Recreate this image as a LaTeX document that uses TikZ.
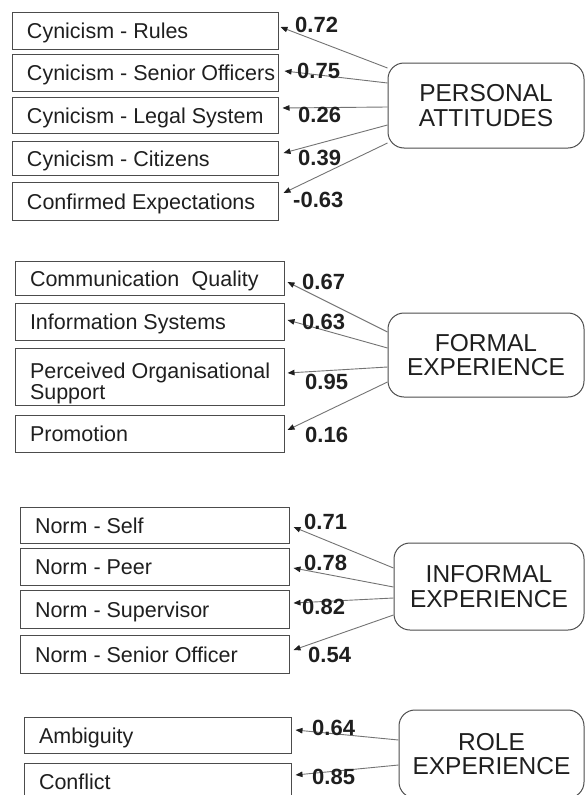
\documentclass[tikz,border=0pt]{standalone}
\usepackage{fontspec}
\setmainfont{Liberation Sans}
\usetikzlibrary{arrows.meta}
\definecolor{boxline}{gray}{0.3}
\definecolor{wire}{gray}{0.45}
\definecolor{ink}{gray}{0.12}
% one label line of given box width, inset from the left edge
\newcommand{\itemline}[2]{\makebox[#1][l]{\hspace*{15pt}\rule[-4.5pt]{0pt}{25pt}#2}}
% plain inset line, used inside two-line labels
\newcommand{\itemrow}[2]{\makebox[#1][l]{\hspace*{15pt}#2}}

\begin{document}
\begin{tikzpicture}[x=1pt,y=1pt,
  ind/.style={draw=boxline, line width=1pt, rectangle, minimum height=36pt,
    inner xsep=0pt, inner ysep=0pt, align=left, text=ink,
    font=\fontsize{21.5}{21}\selectfont},
  lat/.style={draw=boxline, line width=1pt, rounded corners=16pt, align=center,
    text=ink, font=\fontsize{24.5}{24.5}\selectfont},
  num/.style={font=\bfseries\fontsize{22}{22}\selectfont, text=ink,
    inner sep=0pt, anchor=west},
  conn/.style={draw=wire, line width=0.9pt,
    -{Triangle[length=7pt,width=5.5pt,color=ink]}}
]
\useasboundingbox (0,0) rectangle (585,-795);

% ---------- personal attitudes ----------
\node[ind, minimum height=37pt] (r1) at (145,-30.5) {\itemline{266pt}{Cynicism - Rules}};
\node[ind, minimum height=37pt] (r2) at (145,-72.5) {\itemline{266pt}{Cynicism - Senior Officers}};
\node[ind, minimum height=36pt] (r3) at (145,-115) {\itemline{266pt}{Cynicism - Legal System}};
\node[ind, minimum height=34pt] (r4) at (145,-158.5) {\itemline{266pt}{Cynicism - Citizens}};
\node[ind, minimum height=38pt] (r5) at (145,-201) {\itemline{266pt}{Confirmed Expectations}};
\node[lat, minimum width=196pt, minimum height=85pt] (pa) at (486,-105.5) {PERSONAL\\ATTITUDES};

\draw[conn] ([yshift=37.5pt]pa.west) -- ([xshift=2pt,yshift=3.5pt]r1.east);
\draw[conn] ([yshift=22.5pt]pa.west) -- ([xshift=6pt,yshift=1.5pt]r2.east);
\draw[conn] ([yshift=-1.5pt]pa.west) -- ([xshift=4pt,yshift=7pt]r3.east);
\draw[conn] ([yshift=-19.5pt]pa.west) -- ([xshift=5pt,yshift=5.5pt]r4.east);
\draw[conn] ([yshift=-37.5pt]pa.west) -- ([xshift=5pt,yshift=8pt]r5.east);

\node[num] (w1) at (295,-25) {0.72};
\node[num] (w2) at (297,-71) {0.75};
\node[num] (w3) at (298,-115) {0.26};
\node[num] (w4) at (298,-158) {0.39};
\node[num] (w5) at (293,-200) {-0.63};

% ---------- formal experience ----------
\node[ind, minimum height=34pt] (c1) at (149.5,-278.5) {\itemline{269pt}{Communication\hspace{0.3em} Quality}};
\node[ind, minimum height=37pt] (c2) at (149.5,-321.5) {\itemline{269pt}{Information Systems}};
\node[ind, minimum height=57pt] (c3) at (149.5,-376.5) {\itemrow{269pt}{\rule{0pt}{30pt}Perceived Organisational}\\\itemrow{269pt}{Support}};
\node[ind, minimum height=37pt] (c4) at (149.5,-433.5) {\itemline{269pt}{Promotion}};
\node[lat, minimum width=196pt, minimum height=84pt] (fe) at (486,-355) {FORMAL\\EXPERIENCE};

\draw[conn] ([yshift=23pt]fe.west) -- ([xshift=3pt,yshift=-3.5pt]c1.east);
\draw[conn] ([yshift=7pt]fe.west) -- ([xshift=3pt,yshift=1.5pt]c2.east);
\draw[conn] ([yshift=-12pt]fe.west) -- ([xshift=3pt,yshift=3.5pt]c3.east);
\draw[conn] ([yshift=-27pt]fe.west) -- ([xshift=3pt,yshift=3.5pt]c4.east);

\node[num] (v1) at (302,-282) {0.67};
\node[num] (v2) at (302,-322) {0.63};
\node[num] (v3) at (305,-382) {0.95};
\node[num] (v4) at (305,-435) {0.16};

% ---------- informal experience ----------
\node[ind, minimum height=36pt] (n1) at (154.5,-525) {\itemline{269pt}{Norm - Self}};
\node[ind, minimum height=37pt] (n2) at (154.5,-566.5) {\itemline{269pt}{Norm - Peer}};
\node[ind, minimum height=38pt] (n3) at (154.5,-609) {\itemline{269pt}{Norm - Supervisor}};
\node[ind, minimum height=38pt] (n4) at (154.5,-654) {\itemline{269pt}{Norm - Senior Officer}};
\node[lat, minimum width=190pt, minimum height=87pt] (ie) at (489,-586.5) {INFORMAL\\EXPERIENCE};

\draw[conn] ([yshift=18.5pt]ie.west) -- ([xshift=4pt,yshift=-2pt]n1.east);
\draw[conn] ([yshift=-0.5pt]ie.west) -- ([xshift=4pt,yshift=-1.5pt]n2.east);
\draw[conn] ([yshift=-11.5pt]ie.west) -- ([xshift=4pt,yshift=6pt]n3.east);
\draw[conn] ([yshift=-28.5pt]ie.west) -- ([xshift=4pt,yshift=4pt]n4.east);

\node[num] (u1) at (304,-522) {0.71};
\node[num] (u2) at (304,-563) {0.78};
\node[num] (u3) at (302,-607) {0.82};
\node[num] (u4) at (308,-655) {0.54};

% ---------- role experience ----------
\node[ind, minimum height=36pt] (a1) at (157.5,-735) {\itemline{267pt}{Ambiguity}};
\node[ind, minimum height=37pt] (a2) at (157.5,-781.5) {\itemline{267pt}{Conflict}};
\node[lat, minimum width=185pt, minimum height=88pt] (re) at (491.5,-754) {ROLE\\EXPERIENCE};

\draw[conn] ([yshift=14pt]re.west) -- ([xshift=4pt,yshift=5pt]a1.east);
\draw[conn] ([yshift=-11pt]re.west) -- ([xshift=4pt,yshift=6.5pt]a2.east);

\node[num] (s1) at (312,-728) {0.64};
\node[num] (s2) at (312,-777) {0.85};
\end{tikzpicture}
\end{document}
